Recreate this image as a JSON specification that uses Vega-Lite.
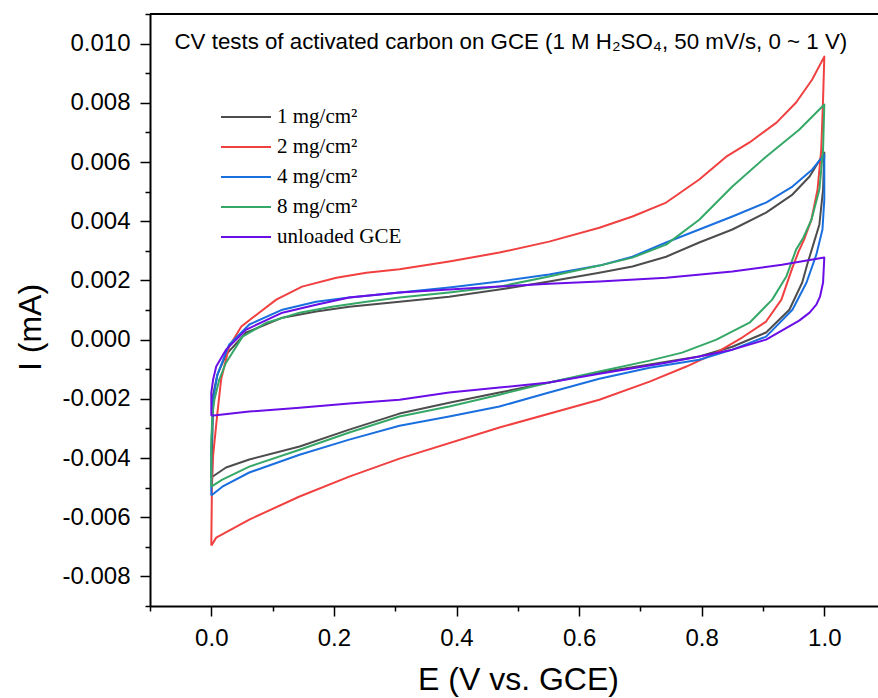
{
  "$schema": "https://vega.github.io/schema/vega-lite/v6.json",
  "autosize": {"type": "none"},
  "padding": {"left": 150, "top": 14, "right": 0, "bottom": 92},
  "width": 728,
  "height": 592,
  "background": "white",
  "config": {"view": {"stroke": null}},
  "resolve": {"axis": {"x": "independent", "y": "independent"}},
  "layer": [
    {
      "data": {"values": [
        {"s":"1 mg/cm²","i":0,"E":0.000,"I":-0.00466},
        {"s":"1 mg/cm²","i":1,"E":0.002,"I":-0.00304},
        {"s":"1 mg/cm²","i":2,"E":0.003,"I":-0.00186},
        {"s":"1 mg/cm²","i":3,"E":0.010,"I":-0.00118},
        {"s":"1 mg/cm²","i":4,"E":0.024,"I":-0.00051},
        {"s":"1 mg/cm²","i":5,"E":0.057,"I":0.00024},
        {"s":"1 mg/cm²","i":6,"E":0.116,"I":0.00074},
        {"s":"1 mg/cm²","i":7,"E":0.171,"I":0.00095},
        {"s":"1 mg/cm²","i":8,"E":0.225,"I":0.00111},
        {"s":"1 mg/cm²","i":9,"E":0.307,"I":0.00128},
        {"s":"1 mg/cm²","i":10,"E":0.388,"I":0.00145},
        {"s":"1 mg/cm²","i":11,"E":0.470,"I":0.00169},
        {"s":"1 mg/cm²","i":12,"E":0.551,"I":0.00196},
        {"s":"1 mg/cm²","i":13,"E":0.633,"I":0.00226},
        {"s":"1 mg/cm²","i":14,"E":0.687,"I":0.00247},
        {"s":"1 mg/cm²","i":15,"E":0.742,"I":0.00280},
        {"s":"1 mg/cm²","i":16,"E":0.796,"I":0.00328},
        {"s":"1 mg/cm²","i":17,"E":0.850,"I":0.00372},
        {"s":"1 mg/cm²","i":18,"E":0.905,"I":0.00429},
        {"s":"1 mg/cm²","i":19,"E":0.948,"I":0.00490},
        {"s":"1 mg/cm²","i":20,"E":0.976,"I":0.00551},
        {"s":"1 mg/cm²","i":21,"E":1.000,"I":0.00632},
        {"s":"1 mg/cm²","i":22,"E":0.998,"I":0.00507},
        {"s":"1 mg/cm²","i":23,"E":0.992,"I":0.00389},
        {"s":"1 mg/cm²","i":24,"E":0.982,"I":0.00321},
        {"s":"1 mg/cm²","i":25,"E":0.972,"I":0.00253},
        {"s":"1 mg/cm²","i":26,"E":0.964,"I":0.00193},
        {"s":"1 mg/cm²","i":27,"E":0.943,"I":0.00101},
        {"s":"1 mg/cm²","i":28,"E":0.905,"I":0.00024},
        {"s":"1 mg/cm²","i":29,"E":0.850,"I":-0.00024},
        {"s":"1 mg/cm²","i":30,"E":0.796,"I":-0.00057},
        {"s":"1 mg/cm²","i":31,"E":0.715,"I":-0.00084},
        {"s":"1 mg/cm²","i":32,"E":0.633,"I":-0.00111},
        {"s":"1 mg/cm²","i":33,"E":0.551,"I":-0.00145},
        {"s":"1 mg/cm²","i":34,"E":0.470,"I":-0.00179},
        {"s":"1 mg/cm²","i":35,"E":0.388,"I":-0.00213},
        {"s":"1 mg/cm²","i":36,"E":0.307,"I":-0.00250},
        {"s":"1 mg/cm²","i":37,"E":0.225,"I":-0.00304},
        {"s":"1 mg/cm²","i":38,"E":0.144,"I":-0.00361},
        {"s":"1 mg/cm²","i":39,"E":0.062,"I":-0.00405},
        {"s":"1 mg/cm²","i":40,"E":0.024,"I":-0.00432},
        {"s":"1 mg/cm²","i":41,"E":0.000,"I":-0.00466},

        {"s":"2 mg/cm²","i":0,"E":0.000,"I":-0.00696},
        {"s":"2 mg/cm²","i":1,"E":0.001,"I":-0.00500},
        {"s":"2 mg/cm²","i":2,"E":0.003,"I":-0.00390},
        {"s":"2 mg/cm²","i":3,"E":0.010,"I":-0.00247},
        {"s":"2 mg/cm²","i":4,"E":0.016,"I":-0.00135},
        {"s":"2 mg/cm²","i":5,"E":0.029,"I":-0.00024},
        {"s":"2 mg/cm²","i":6,"E":0.049,"I":0.00044},
        {"s":"2 mg/cm²","i":7,"E":0.078,"I":0.00091},
        {"s":"2 mg/cm²","i":8,"E":0.106,"I":0.00135},
        {"s":"2 mg/cm²","i":9,"E":0.148,"I":0.00179},
        {"s":"2 mg/cm²","i":10,"E":0.204,"I":0.00209},
        {"s":"2 mg/cm²","i":11,"E":0.253,"I":0.00226},
        {"s":"2 mg/cm²","i":12,"E":0.307,"I":0.00238},
        {"s":"2 mg/cm²","i":13,"E":0.388,"I":0.00264},
        {"s":"2 mg/cm²","i":14,"E":0.470,"I":0.00294},
        {"s":"2 mg/cm²","i":15,"E":0.551,"I":0.00331},
        {"s":"2 mg/cm²","i":16,"E":0.633,"I":0.00378},
        {"s":"2 mg/cm²","i":17,"E":0.687,"I":0.00416},
        {"s":"2 mg/cm²","i":18,"E":0.742,"I":0.00463},
        {"s":"2 mg/cm²","i":19,"E":0.796,"I":0.00541},
        {"s":"2 mg/cm²","i":20,"E":0.840,"I":0.00618},
        {"s":"2 mg/cm²","i":21,"E":0.878,"I":0.00666},
        {"s":"2 mg/cm²","i":22,"E":0.922,"I":0.00733},
        {"s":"2 mg/cm²","i":23,"E":0.954,"I":0.00801},
        {"s":"2 mg/cm²","i":24,"E":0.980,"I":0.00878},
        {"s":"2 mg/cm²","i":25,"E":1.000,"I":0.00956},
        {"s":"2 mg/cm²","i":26,"E":0.998,"I":0.00811},
        {"s":"2 mg/cm²","i":27,"E":0.995,"I":0.00642},
        {"s":"2 mg/cm²","i":28,"E":0.989,"I":0.00507},
        {"s":"2 mg/cm²","i":29,"E":0.979,"I":0.00405},
        {"s":"2 mg/cm²","i":30,"E":0.967,"I":0.00338},
        {"s":"2 mg/cm²","i":31,"E":0.958,"I":0.00297},
        {"s":"2 mg/cm²","i":32,"E":0.948,"I":0.00243},
        {"s":"2 mg/cm²","i":33,"E":0.930,"I":0.00135},
        {"s":"2 mg/cm²","i":34,"E":0.905,"I":0.00061},
        {"s":"2 mg/cm²","i":35,"E":0.866,"I":0.00007},
        {"s":"2 mg/cm²","i":36,"E":0.824,"I":-0.00044},
        {"s":"2 mg/cm²","i":37,"E":0.775,"I":-0.00091},
        {"s":"2 mg/cm²","i":38,"E":0.715,"I":-0.00142},
        {"s":"2 mg/cm²","i":39,"E":0.633,"I":-0.00203},
        {"s":"2 mg/cm²","i":40,"E":0.470,"I":-0.00297},
        {"s":"2 mg/cm²","i":41,"E":0.307,"I":-0.00402},
        {"s":"2 mg/cm²","i":42,"E":0.225,"I":-0.00463},
        {"s":"2 mg/cm²","i":43,"E":0.144,"I":-0.00530},
        {"s":"2 mg/cm²","i":44,"E":0.062,"I":-0.00608},
        {"s":"2 mg/cm²","i":45,"E":0.008,"I":-0.00669},
        {"s":"2 mg/cm²","i":46,"E":0.000,"I":-0.00696},

        {"s":"4 mg/cm²","i":0,"E":0.000,"I":-0.00527},
        {"s":"4 mg/cm²","i":1,"E":0.000,"I":-0.00372},
        {"s":"4 mg/cm²","i":2,"E":0.002,"I":-0.00270},
        {"s":"4 mg/cm²","i":3,"E":0.003,"I":-0.00203},
        {"s":"4 mg/cm²","i":4,"E":0.010,"I":-0.00118},
        {"s":"4 mg/cm²","i":5,"E":0.029,"I":-0.00017},
        {"s":"4 mg/cm²","i":6,"E":0.062,"I":0.00051},
        {"s":"4 mg/cm²","i":7,"E":0.116,"I":0.00101},
        {"s":"4 mg/cm²","i":8,"E":0.171,"I":0.00128},
        {"s":"4 mg/cm²","i":9,"E":0.225,"I":0.00142},
        {"s":"4 mg/cm²","i":10,"E":0.307,"I":0.00159},
        {"s":"4 mg/cm²","i":11,"E":0.388,"I":0.00176},
        {"s":"4 mg/cm²","i":12,"E":0.470,"I":0.00196},
        {"s":"4 mg/cm²","i":13,"E":0.551,"I":0.00220},
        {"s":"4 mg/cm²","i":14,"E":0.633,"I":0.00250},
        {"s":"4 mg/cm²","i":15,"E":0.687,"I":0.00280},
        {"s":"4 mg/cm²","i":16,"E":0.742,"I":0.00328},
        {"s":"4 mg/cm²","i":17,"E":0.796,"I":0.00372},
        {"s":"4 mg/cm²","i":18,"E":0.850,"I":0.00416},
        {"s":"4 mg/cm²","i":19,"E":0.905,"I":0.00463},
        {"s":"4 mg/cm²","i":20,"E":0.948,"I":0.00517},
        {"s":"4 mg/cm²","i":21,"E":0.980,"I":0.00574},
        {"s":"4 mg/cm²","i":22,"E":1.000,"I":0.00625},
        {"s":"4 mg/cm²","i":23,"E":1.000,"I":0.00473},
        {"s":"4 mg/cm²","i":24,"E":0.997,"I":0.00372},
        {"s":"4 mg/cm²","i":25,"E":0.987,"I":0.00287},
        {"s":"4 mg/cm²","i":26,"E":0.971,"I":0.00193},
        {"s":"4 mg/cm²","i":27,"E":0.948,"I":0.00101},
        {"s":"4 mg/cm²","i":28,"E":0.905,"I":0.00010},
        {"s":"4 mg/cm²","i":29,"E":0.850,"I":-0.00034},
        {"s":"4 mg/cm²","i":30,"E":0.796,"I":-0.00068},
        {"s":"4 mg/cm²","i":31,"E":0.715,"I":-0.00095},
        {"s":"4 mg/cm²","i":32,"E":0.633,"I":-0.00132},
        {"s":"4 mg/cm²","i":33,"E":0.551,"I":-0.00179},
        {"s":"4 mg/cm²","i":34,"E":0.470,"I":-0.00226},
        {"s":"4 mg/cm²","i":35,"E":0.388,"I":-0.00260},
        {"s":"4 mg/cm²","i":36,"E":0.307,"I":-0.00291},
        {"s":"4 mg/cm²","i":37,"E":0.225,"I":-0.00338},
        {"s":"4 mg/cm²","i":38,"E":0.144,"I":-0.00389},
        {"s":"4 mg/cm²","i":39,"E":0.062,"I":-0.00449},
        {"s":"4 mg/cm²","i":40,"E":0.018,"I":-0.00497},
        {"s":"4 mg/cm²","i":41,"E":0.000,"I":-0.00527},

        {"s":"8 mg/cm²","i":0,"E":0.000,"I":-0.00497},
        {"s":"8 mg/cm²","i":1,"E":0.000,"I":-0.00338},
        {"s":"8 mg/cm²","i":2,"E":0.002,"I":-0.00253},
        {"s":"8 mg/cm²","i":3,"E":0.005,"I":-0.00203},
        {"s":"8 mg/cm²","i":4,"E":0.013,"I":-0.00135},
        {"s":"8 mg/cm²","i":5,"E":0.024,"I":-0.00078},
        {"s":"8 mg/cm²","i":6,"E":0.051,"I":0.00010},
        {"s":"8 mg/cm²","i":7,"E":0.090,"I":0.00057},
        {"s":"8 mg/cm²","i":8,"E":0.144,"I":0.00091},
        {"s":"8 mg/cm²","i":9,"E":0.197,"I":0.00111},
        {"s":"8 mg/cm²","i":10,"E":0.253,"I":0.00128},
        {"s":"8 mg/cm²","i":11,"E":0.307,"I":0.00142},
        {"s":"8 mg/cm²","i":12,"E":0.388,"I":0.00159},
        {"s":"8 mg/cm²","i":13,"E":0.470,"I":0.00179},
        {"s":"8 mg/cm²","i":14,"E":0.551,"I":0.00213},
        {"s":"8 mg/cm²","i":15,"E":0.633,"I":0.00250},
        {"s":"8 mg/cm²","i":16,"E":0.687,"I":0.00277},
        {"s":"8 mg/cm²","i":17,"E":0.742,"I":0.00321},
        {"s":"8 mg/cm²","i":18,"E":0.796,"I":0.00405},
        {"s":"8 mg/cm²","i":19,"E":0.850,"I":0.00517},
        {"s":"8 mg/cm²","i":20,"E":0.905,"I":0.00618},
        {"s":"8 mg/cm²","i":21,"E":0.959,"I":0.00709},
        {"s":"8 mg/cm²","i":22,"E":1.000,"I":0.00794},
        {"s":"8 mg/cm²","i":23,"E":0.998,"I":0.00642},
        {"s":"8 mg/cm²","i":24,"E":0.992,"I":0.00507},
        {"s":"8 mg/cm²","i":25,"E":0.979,"I":0.00405},
        {"s":"8 mg/cm²","i":26,"E":0.966,"I":0.00345},
        {"s":"8 mg/cm²","i":27,"E":0.954,"I":0.00304},
        {"s":"8 mg/cm²","i":28,"E":0.938,"I":0.00213},
        {"s":"8 mg/cm²","i":29,"E":0.915,"I":0.00135},
        {"s":"8 mg/cm²","i":30,"E":0.878,"I":0.00057},
        {"s":"8 mg/cm²","i":31,"E":0.824,"I":0.00000},
        {"s":"8 mg/cm²","i":32,"E":0.768,"I":-0.00044},
        {"s":"8 mg/cm²","i":33,"E":0.715,"I":-0.00071},
        {"s":"8 mg/cm²","i":34,"E":0.633,"I":-0.00108},
        {"s":"8 mg/cm²","i":35,"E":0.551,"I":-0.00145},
        {"s":"8 mg/cm²","i":36,"E":0.470,"I":-0.00186},
        {"s":"8 mg/cm²","i":37,"E":0.388,"I":-0.00226},
        {"s":"8 mg/cm²","i":38,"E":0.307,"I":-0.00260},
        {"s":"8 mg/cm²","i":39,"E":0.225,"I":-0.00314},
        {"s":"8 mg/cm²","i":40,"E":0.144,"I":-0.00372},
        {"s":"8 mg/cm²","i":41,"E":0.062,"I":-0.00429},
        {"s":"8 mg/cm²","i":42,"E":0.018,"I":-0.00473},
        {"s":"8 mg/cm²","i":43,"E":0.000,"I":-0.00497},

        {"s":"unloaded GCE","i":0,"E":0.000,"I":-0.00257},
        {"s":"unloaded GCE","i":1,"E":0.000,"I":-0.00179},
        {"s":"unloaded GCE","i":2,"E":0.003,"I":-0.00135},
        {"s":"unloaded GCE","i":3,"E":0.008,"I":-0.00091},
        {"s":"unloaded GCE","i":4,"E":0.024,"I":-0.00034},
        {"s":"unloaded GCE","i":5,"E":0.057,"I":0.00034},
        {"s":"unloaded GCE","i":6,"E":0.116,"I":0.00091},
        {"s":"unloaded GCE","i":7,"E":0.171,"I":0.00118},
        {"s":"unloaded GCE","i":8,"E":0.225,"I":0.00142},
        {"s":"unloaded GCE","i":9,"E":0.307,"I":0.00159},
        {"s":"unloaded GCE","i":10,"E":0.388,"I":0.00169},
        {"s":"unloaded GCE","i":11,"E":0.470,"I":0.00179},
        {"s":"unloaded GCE","i":12,"E":0.551,"I":0.00189},
        {"s":"unloaded GCE","i":13,"E":0.633,"I":0.00196},
        {"s":"unloaded GCE","i":14,"E":0.742,"I":0.00209},
        {"s":"unloaded GCE","i":15,"E":0.850,"I":0.00230},
        {"s":"unloaded GCE","i":16,"E":0.931,"I":0.00253},
        {"s":"unloaded GCE","i":17,"E":1.000,"I":0.00277},
        {"s":"unloaded GCE","i":18,"E":0.998,"I":0.00193},
        {"s":"unloaded GCE","i":19,"E":0.993,"I":0.00145},
        {"s":"unloaded GCE","i":20,"E":0.987,"I":0.00118},
        {"s":"unloaded GCE","i":21,"E":0.976,"I":0.00091},
        {"s":"unloaded GCE","i":22,"E":0.959,"I":0.00064},
        {"s":"unloaded GCE","i":23,"E":0.905,"I":0.00000},
        {"s":"unloaded GCE","i":24,"E":0.850,"I":-0.00034},
        {"s":"unloaded GCE","i":25,"E":0.796,"I":-0.00057},
        {"s":"unloaded GCE","i":26,"E":0.742,"I":-0.00078},
        {"s":"unloaded GCE","i":27,"E":0.633,"I":-0.00115},
        {"s":"unloaded GCE","i":28,"E":0.551,"I":-0.00145},
        {"s":"unloaded GCE","i":29,"E":0.470,"I":-0.00162},
        {"s":"unloaded GCE","i":30,"E":0.388,"I":-0.00179},
        {"s":"unloaded GCE","i":31,"E":0.307,"I":-0.00203},
        {"s":"unloaded GCE","i":32,"E":0.225,"I":-0.00216},
        {"s":"unloaded GCE","i":33,"E":0.144,"I":-0.00230},
        {"s":"unloaded GCE","i":34,"E":0.062,"I":-0.00243},
        {"s":"unloaded GCE","i":35,"E":0.000,"I":-0.00257}
      ]},
      "mark": {"type": "line", "strokeWidth": 2, "interpolate": "linear", "strokeJoin": "round"},
      "encoding": {
        "x": {
          "field": "E", "type": "quantitative",
          "scale": {"domain": [-0.1, 1.0876], "nice": false, "zero": false},
          "axis": {
            "title": "E (V vs. GCE)",
            "values": [0, 0.2, 0.4, 0.6, 0.8, 1.0],
            "format": ".1f",
            "labelOverlap": false,
            "tickSize": 10,
            "tickColor": "black", "tickWidth": 1.5,
            "domainColor": "black", "domainWidth": 2,
            "labelFont": "Liberation Sans", "labelFontSize": 24, "labelColor": "black", "labelPadding": 10,
            "titleFont": "Liberation Sans", "titleFontSize": 32, "titleFontWeight": "normal", "titleColor": "black",
            "titlePadding": 14, "titleX": 368,
            "grid": false
          }
        },
        "y": {
          "field": "I", "type": "quantitative",
          "scale": {"domain": [-0.009, 0.011], "nice": false, "zero": false},
          "axis": {
            "title": "I (mA)",
            "values": [-0.008, -0.006, -0.004, -0.002, 0, 0.002, 0.004, 0.006, 0.008, 0.01],
            "format": ".3f",
            "labelExpr": "replace(datum.label, '−', '-')",
            "labelOverlap": false,
            "tickSize": 10,
            "tickColor": "black", "tickWidth": 1.5,
            "domainColor": "black", "domainWidth": 2,
            "labelFont": "Liberation Sans", "labelFontSize": 24, "labelColor": "black", "labelPadding": 10,
            "titleFont": "Liberation Sans", "titleFontSize": 32, "titleFontWeight": "normal", "titleColor": "black",
            "titlePadding": 14, "titleY": 313,
            "grid": false
          }
        },
        "color": {
          "field": "s", "type": "nominal",
          "scale": {
            "domain": ["1 mg/cm²", "2 mg/cm²", "4 mg/cm²", "8 mg/cm²", "unloaded GCE"],
            "range": ["#4d4d4d", "#f04040", "#1a6fdf", "#35a868", "#6a0de6"]
          },
          "legend": {
            "title": null, "orient": "none", "legendX": 70, "legendY": 88,
            "symbolType": "stroke", "symbolSize": 2500, "symbolStrokeWidth": 2,
            "clipHeight": 30,
            "labelFont": "Liberation Serif", "labelFontSize": 21, "labelColor": "black",
            "labelOffset": 5, "padding": 0, "rowPadding": 0
          }
        },
        "order": {"field": "i", "type": "quantitative"}
      }
    },
    {
      "data": {"values": [{"edge": "top"}]},
      "mark": {"type": "rule", "color": "black", "strokeWidth": 2},
      "encoding": {
        "y": {
          "datum": 0.011,
          "axis": {
            "orient": "left", "title": null, "labels": false, "domain": false, "grid": false,
            "values": [-0.009, -0.007, -0.005, -0.003, -0.001, 0.001, 0.003, 0.005, 0.007, 0.009, 0.011],
            "tickSize": 5, "tickColor": "black", "tickWidth": 1.5
          }
        }
      }
    },
    {
      "data": {"values": [{"label": "CV tests of activated carbon on GCE (1 M H₂SO₄, 50 mV/s, 0 ~ 1 V)"}]},
      "mark": {"type": "text", "align": "left", "baseline": "alphabetic", "font": "Liberation Sans", "fontSize": 22.3, "color": "black"},
      "encoding": {
        "x": {
          "datum": -0.06,
          "axis": {
            "orient": "bottom", "title": null, "labels": false, "domain": false, "grid": false,
            "values": [-0.1, 0.1, 0.3, 0.5, 0.7, 0.9],
            "tickSize": 5, "tickColor": "black", "tickWidth": 1.5
          }
        },
        "y": {"datum": 0.00982, "axis": null},
        "text": {"field": "label", "type": "nominal"}
      }
    }
  ]
}
